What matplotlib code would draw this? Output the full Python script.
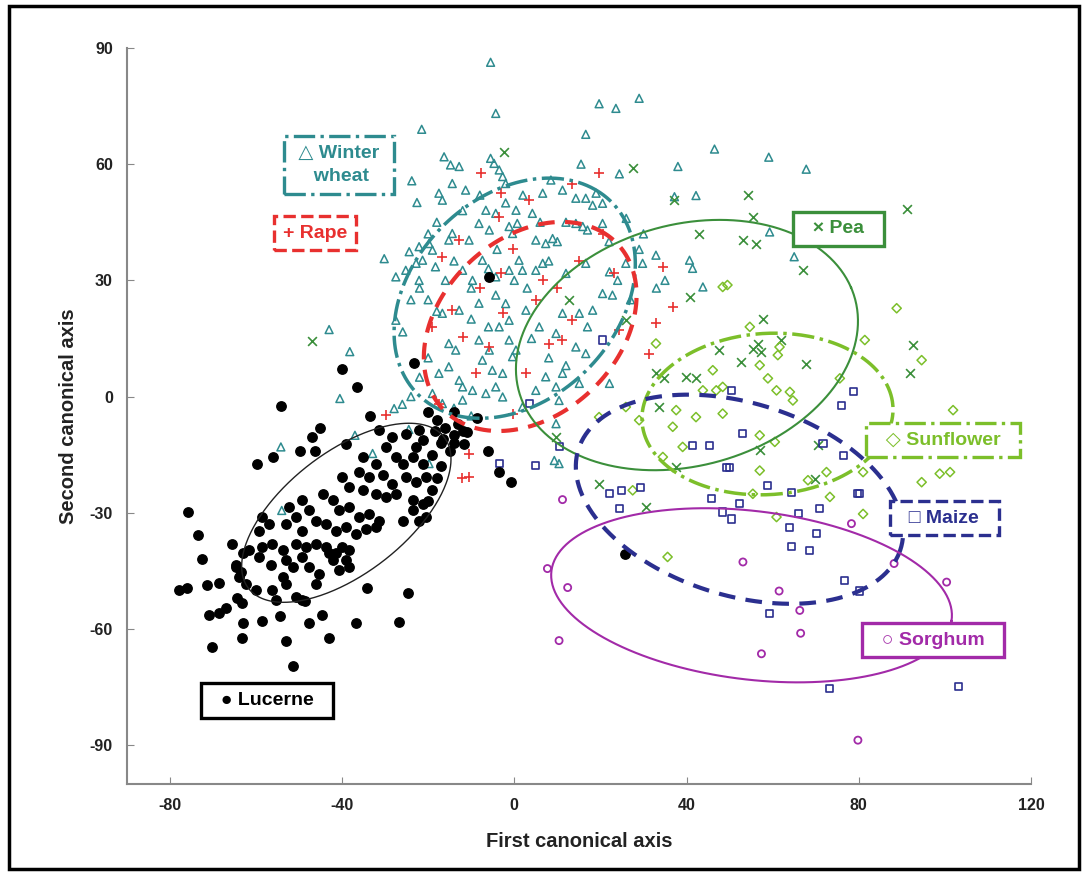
import numpy as np
import matplotlib
matplotlib.use('Agg')
import matplotlib.pyplot as plt
from matplotlib.patches import Rectangle

plt.rcParams['font.family'] = ['Liberation Sans', 'DejaVu Sans']
plt.rcParams['font.weight'] = 'bold'
plt.rcParams['axes.unicode_minus'] = False

# ---- data (first, second canonical axis) ----
lucerne_x = [-31.4,-28.3,-25.2,-22.1,-21.3,-22.8,-29.8,-27.5,-25.9,-23.6,-21.3,-35.2,-32.1,-36.0,-33.7,-30.6,-28.3,-25.2,-22.8,-20.5,
             -39.9,-38.3,-35.2,-32.1,-29.8,-27.5,-23.6,-21.3,-44.5,-42.2,-40.7,-38.3,-36.0,-33.7,-31.4,-49.2,-47.6,-46.1,-43.8,-41.4,
             -39.1,-36.8,-34.5,-32.1,-52.3,-50.7,-53.1,-49.2,-58.5,-56.9,-59.3,-23.6,-22.1,-20.5,-25.9,
             -65.5,-63.1,-61.6,-58.5,-56.2,-53.8,-50.7,-48.4,-46.1,-43.8,-41.4,-39.9,-38.3,-39.1,-64.7,-63.9,-62.4,-59.3,-56.6,-53.1,
             -51.5,-49.2,-47.6,-45.3,-43.0,-42.2,-40.7,-38.3,-60.0,-56.2,-55.4,-53.8,-53.1,-50.7,-49.2,-46.1,
             -18,-16,-14,-17,-19,-15,-13,-12,-20,-14,-17,-18,-19,-20,
             -23.3,-40.0,-36.5,-54.2,-33.5,-45.1,-47.0,-49.8,-46.3,-56.0,-59.8,-39.0,-75.8,-73.5,
             -72.6,-77.9,-76.0,-71.4,-68.6,-70.9,-68.6,-67.0,-70.2,-63.3,-63.0,-58.6,-54.4,-53.0,-51.4,-47.7,-44.7,-43.0,-36.7,-34.2,
             -26.7,-24.7,-48.6,-64.4,-63.3,-64.7,-63.5,
             -8.6,-6.0,-3.5,-0.7,-11.6,-10.9,-5.8,25.8,-16.5,-18.5,-14.0]
lucerne_y = [-8.7,-10.4,-9.6,-8.7,-11.3,-13.0,-13.0,-15.6,-17.3,-15.6,-17.3,-15.6,-17.3,-19.5,-20.8,-20.3,-22.5,-20.8,-22.1,-20.8,
             -20.8,-23.4,-24.2,-25.1,-25.9,-25.1,-26.8,-27.7,-25.1,-26.8,-29.4,-28.5,-31.1,-30.3,-32.0,-26.8,-29.4,-32.0,-32.8,-34.6,
             -33.7,-35.4,-34.1,-33.7,-28.5,-31.1,-32.8,-34.6,-31.1,-32.8,-34.6,-29.4,-32.0,-31.1,-32.0,
             -38.0,-40.5,-39.7,-38.8,-38.0,-39.7,-38.0,-38.8,-38.0,-38.8,-40.5,-38.8,-39.7,-42.3,-44.0,-46.6,-48.3,-41.4,-43.6,-42.3,
             -44.0,-41.4,-44.0,-45.7,-40.5,-42.3,-44.9,-44.0,-50.0,-50.0,-52.6,-46.6,-48.3,-51.7,-52.6,-48.3,
             -6,-8,-10,-12,-15,-14,-7,-9,-4,-4,-18,-21,-24,-27,
             8.7,7.1,2.5,-2.5,-5.0,-8.1,-10.5,-14.1,-14.1,-15.6,-17.4,-12.3,-29.8,-35.8,
             -42.0,-50.0,-49.4,-48.7,-48.2,-56.4,-55.9,-54.6,-64.7,-62.4,-58.5,-58.0,-56.7,-63.2,-69.6,-58.5,-56.4,-62.4,-58.5,-49.4,
             -58.2,-50.7,-52.8,-52.0,-53.3,-43.5,-45.3,
             -5.6,-14.1,-19.5,-22.1,-12.3,-9.2,30.9,-40.7,-11.0,-9.0,-12.0]

wheat_x = [-5.5,-4.3,19.7,23.6,29.0,16.6,46.5,15.5,24.4,38.0,42.2,37.2,-16.3,-14.8,-12.8,-14.4,-11.3,-17.5,-16.7,
           -5.5,-4.7,-3.5,-2.7,-2.0,6.6,8.5,11.2,14.3,16.6,19.0,18.2,20.5,-6.6,-4.3,0.4,4.2,0.7,-8.2,-5.8,-1.2,-0.4,
           -14.4,-15.2,-10.5,-19.8,-19.0,-18.3,5.0,7.3,8.9,14.3,15.9,17.0,20.5,16.6,22.1,25.9,29.8,32.9,40.7,41.4,43.8,
           -7.4,-1.2,-4.3,5.0,6.6,-12.0,-9.7,1.1,1.9,12.0,
           -21.5,-23.8,-22.6,-30.2,-24.4,-22.1,-21.3,-27.5,-25.2,-22.8,-22.1,
           59.1,67.8,59.3,65.0,
           -43.0,-38.2,-40.5,-27.9,-25.9,-27.5,-54.2,-37.0,-24.5,-32.9,-54.0,
           -16.7,-12.8,-8.2,-4.3,-1.2,2.7,5.8,9.7,11.2,15.1,18.2,20.5,22.8,14.3,16.6,-15.2,-13.6,-8.2,-5.8,-7.4,
           -3.5,-1.2,0.4,-0.4,-17.5,-15.2,-12.0,-9.7,-12.8,-6.6,-4.3,-2.7,-2.7,-5.1,-12.0,-16.7,-19.0,1.9,5.0,7.3,
           9.7,10.4,11.2,15.1,22.1,9.7,10.4,9.3,-19.8,
           -20,-18,-22,-24,-16,-10,-6,-4,0,3,8,10,12,6,2,-2,-8,-12,-18,-20,-14,-10,-6,-2,4,8,12,17,24,27,29,22,26,30,33,35,
           -20,-22,-24,-26,-14,-10]
wheat_y = [86.3,73.1,75.6,74.4,77.0,67.7,63.9,60.0,57.5,59.4,51.9,51.6,61.9,59.8,59.4,55.0,53.3,52.5,50.7,
           61.5,60.2,58.5,56.8,55.0,52.5,55.9,53.3,51.2,51.2,52.5,49.4,49.9,48.1,47.3,48.1,47.3,44.7,44.7,43.0,43.9,42.1,
           42.1,40.4,40.4,39.5,37.8,33.5,40.4,39.5,40.8,44.7,43.9,43.0,44.7,34.4,32.2,34.4,34.4,36.5,35.2,33.1,28.3,
           35.2,32.6,30.9,32.6,34.4,32.6,30.0,35.2,32.6,31.8,
           69.0,55.7,50.1,35.6,37.4,38.7,35.2,30.9,32.6,34.4,30.0,
           61.8,58.7,42.5,36.1,
           17.3,11.6,-0.5,-3.1,16.7,19.7,-13.0,-10.0,-8.5,-14.7,-29.4,
           21.5,22.3,24.1,26.2,19.7,22.3,18.0,16.3,21.5,21.5,22.3,26.6,26.2,12.8,11.1,13.7,12.0,14.6,12.0,9.4,
           18.0,14.6,12.0,10.3,6.0,7.7,2.5,1.6,4.2,0.8,2.5,-0.1,6.0,6.8,-0.9,-1.8,0.8,-2.7,1.6,5.1,
           2.5,-1.0,6.0,3.4,3.4,-7.0,-17.3,-16.5,-17.3,
           25,22,28,25,30,28,33,38,30,28,35,40,45,45,52,50,52,48,45,42,35,20,18,24,15,10,8,18,30,25,38,40,46,42,28,30,
           10,5,0,-2,-3,-5]

rape_x = [-7.8,-3.1,3.5,13.5,19.7,20.5,-12.8,-3.5,-0.4,-16.7,34.5,23.2,6.6,
          -19.0,-14.4,-12.0,-2.7,-5.8,-8.9,2.7,8.1,11.2,13.5,31.4,32.9,36.8,-0.4,-10.5,-10.5,-17.5,24.4,-29.8,
          -8,-3,5,10,15,-12.1]
rape_y = [57.6,52.5,50.7,55.0,57.6,42.1,40.4,46.4,38.2,36.1,33.5,31.8,30.0,
          18.0,22.3,15.4,21.5,12.8,6.0,6.0,13.7,14.6,19.7,11.1,18.9,23.2,-4.4,-14.7,-20.8,-1.8,17.2,-4.8,
          28,32,25,28,35,-21.0]

pea_x = [-2.4,27.5,43.0,37.2,54.3,55.4,53.1,56.2,67.1,91.2,-47.0,57.8,55.4,57.4,56.6,52.7,67.8,92.6,91.9,57.0,70.5,69.8,62.0,
         40.7,47.6,39.9,42.2,32.9,33.7,9.7,19.7,30.6,37.6,25.9,12.8,34.7]
pea_y = [63.2,58.9,42.1,50.7,52.0,46.4,40.4,39.5,32.6,48.4,14.3,19.9,12.4,11.6,13.7,9.0,8.5,13.3,6.0,-13.9,-12.6,-21.2,14.6,
         25.8,12.0,5.1,4.7,6.0,-2.7,-10.4,-22.5,-28.5,-18.2,19.7,24.9,4.8]

sun_x = [88.8,81.4,94.6,75.6,57.0,58.9,60.9,64.0,64.7,54.7,61.6,61.2,101.9,57.0,60.5,57.0,68.2,72.5,81.0,94.6,98.8,101.2,
         55.4,60.9,73.3,81.0,32.9,43.8,48.4,42.2,36.8,29.0,25.9,19.7,34.5,27.5,37.6,46.1,46.9,48.4,39.1,49.5,48.4,35.6]
sun_y = [22.8,14.6,9.4,4.7,8.1,4.7,1.6,1.2,-1.0,18.0,12.8,10.7,-3.5,-10.0,-11.7,-19.1,-21.6,-19.5,-19.5,-22.1,-19.9,-19.5,
         -25.1,-31.1,-25.9,-30.3,13.7,1.6,-4.4,-5.3,-7.8,-6.1,-2.7,-5.3,-15.6,-24.2,-3.5,6.8,1.6,2.5,-13.0,28.8,28.3,-41.4]

maize_x = [3.5,20.5,10.4,5.0,-3.5,24.8,22.1,29.4,24.4,41.4,45.3,49.2,45.7,48.4,
           78.7,76.0,50.4,53.1,71.7,76.4,50.0,58.9,64.3,52.3,70.9,65.9,50.4,64.0,80.2,70.2,
           64.3,68.6,76.7,80.2,59.3,73.3,103.1,121.3,79.8]
maize_y = [-1.8,14.6,-13.0,-17.8,-17.3,-24.2,-25.1,-23.4,-29.0,-12.6,-12.6,-18.2,-26.4,-29.8,
           1.2,-2.2,1.6,-9.6,-12.2,-15.2,-18.2,-22.9,-24.7,-27.7,-29.0,-30.3,-31.6,-33.7,-25.1,-35.4,
           -38.7,-39.7,-47.4,-50.2,-55.9,-75.3,-74.8,-81.1,-25.0]

sorghum_x = [7.7,12.4,10.4,53.1,61.5,66.3,66.5,57.4,88.2,100.4,79.8,11.2,78.3]
sorghum_y = [-44.4,-49.3,-63.0,-42.7,-50.2,-55.2,-61.1,-66.4,-43.1,-47.9,-88.7,-26.6,-32.8]

# ellipses: centre x, centre y, semi-major, semi-minor, angle (deg)
ell_lucerne = [-39.0, -30.0, 30.0, 15.0, 42.6]
ell_wheat = [0.1, 25.4, 33.7, 24.7, 54.8]
ell_rape = [3.7, 18.1, 29.6, 21.5, 53.3]
ell_pea = [40.1, 13.3, 40.9, 30.8, 21.3]
ell_sun = [58.8, -4.5, 29.2, 20.8, 4.7]
ell_maize = [52.3, -26.5, 39.6, 24.6, -21.0]
ell_sorghum = [55.1, -51.3, 46.9, 21.7, -8.1]

c_wheat = '#2e8b8f'
c_rape = '#e8302f'
c_pea = '#3b8f3b'
c_sun = '#7cbf2a'
c_maize = '#2b2f8f'
c_sorghum = '#a22aa8'


def ellipse(ax, p, color, ls, lw):
    t = np.linspace(0, 2 * np.pi, 300)
    a = np.deg2rad(p[4])
    u, v = p[2] * np.cos(t), p[3] * np.sin(t)
    ax.plot(p[0] + u * np.cos(a) - v * np.sin(a), p[1] + u * np.sin(a) + v * np.cos(a),
            color=color, ls=ls, lw=lw, zorder=4)


fig = plt.figure(figsize=(10.83, 8.72), dpi=100)
ax = fig.add_axes([0.117, 0.101, 0.835, 0.844])

ax.scatter(wheat_x, wheat_y, marker='^', s=32, facecolors='none', edgecolors=c_wheat, linewidths=1.1, zorder=2)
ax.scatter(rape_x, rape_y, marker='+', s=50, color=c_rape, linewidths=1.2, zorder=2)
ax.scatter(pea_x, pea_y, marker='x', s=40, color=c_pea, linewidths=1.2, zorder=2)
ax.scatter(sun_x, sun_y, marker='D', s=22, facecolors='none', edgecolors=c_sun, linewidths=1.1, zorder=2)
ax.scatter(maize_x, maize_y, marker='s', s=26, facecolors='none', edgecolors=c_maize, linewidths=1.2, zorder=2)
ax.scatter(sorghum_x, sorghum_y, marker='o', s=26, facecolors='none', edgecolors=c_sorghum, linewidths=1.3, zorder=2)
ax.scatter(lucerne_x, lucerne_y, marker='o', s=46, color='black', zorder=3)

ellipse(ax, ell_lucerne, '#222222', '-', 1.0)
ellipse(ax, ell_wheat, c_wheat, '-.', 2.5)
ellipse(ax, ell_rape, c_rape, (0, (4, 2.5)), 3.0)
ellipse(ax, ell_pea, c_pea, '-', 1.5)
ellipse(ax, ell_sun, c_sun, '-.', 2.5)
ellipse(ax, ell_maize, c_maize, (0, (4, 2.5)), 3.0)
ellipse(ax, ell_sorghum, c_sorghum, '-', 1.5)


def label(x, y, txt, color, ls):
    ax.text(x, y, txt, color=color, fontsize=14, fontweight='bold', ha='center', va='center',
            linespacing=1.45, zorder=6,
            bbox=dict(boxstyle='square,pad=0.45', fc='white', ec=color, ls=ls, lw=2.4))


label(-40.7, 59.8, ' \u25b3 Winter \n  wheat ', c_wheat, '-.')
label(-46.3, 42.2, '+ Rape', c_rape, '--')
label(75.3, 43.3, '  \u00d7 Pea  ', c_pea, '-')
label(99.5, -11.2, '  \u25c7 Sunflower  ', c_sun, '-.')
label(99.8, -31.4, '  \u25a1 Maize  ', c_maize, '--')
label(97.2, -62.9, '  \u25cb Sorghum  ', c_sorghum, '-')
label(-57.4, -78.4, '  \u25cf Lucerne  ', 'black', '-')

ax.set_xlim(-90, 120)
ax.set_ylim(-100, 90)
ax.set_xticks([-80, -40, 0, 40, 80, 120])
ax.set_yticks([-90, -60, -30, 0, 30, 60, 90])
ax.tick_params(direction='in', length=5, labelsize=11.5, colors='#888888', labelcolor='#222222', pad=10)
for s in ['top', 'right']:
    ax.spines[s].set_visible(False)
for s in ['left', 'bottom']:
    ax.spines[s].set_color('#888888')
    ax.spines[s].set_linewidth(1.5)
ax.set_xlabel('First canonical axis', fontsize=14.5, fontweight='bold', color='#222222', labelpad=14)
ax.set_ylabel('Second canonical axis', fontsize=14.5, fontweight='bold', color='#222222', labelpad=8)

fig.patches.append(Rectangle((0.008, 0.003), 0.988, 0.99, transform=fig.transFigure, fill=False,
                             ec='black', lw=2.5))

fig.savefig('out.png', dpi=100)
